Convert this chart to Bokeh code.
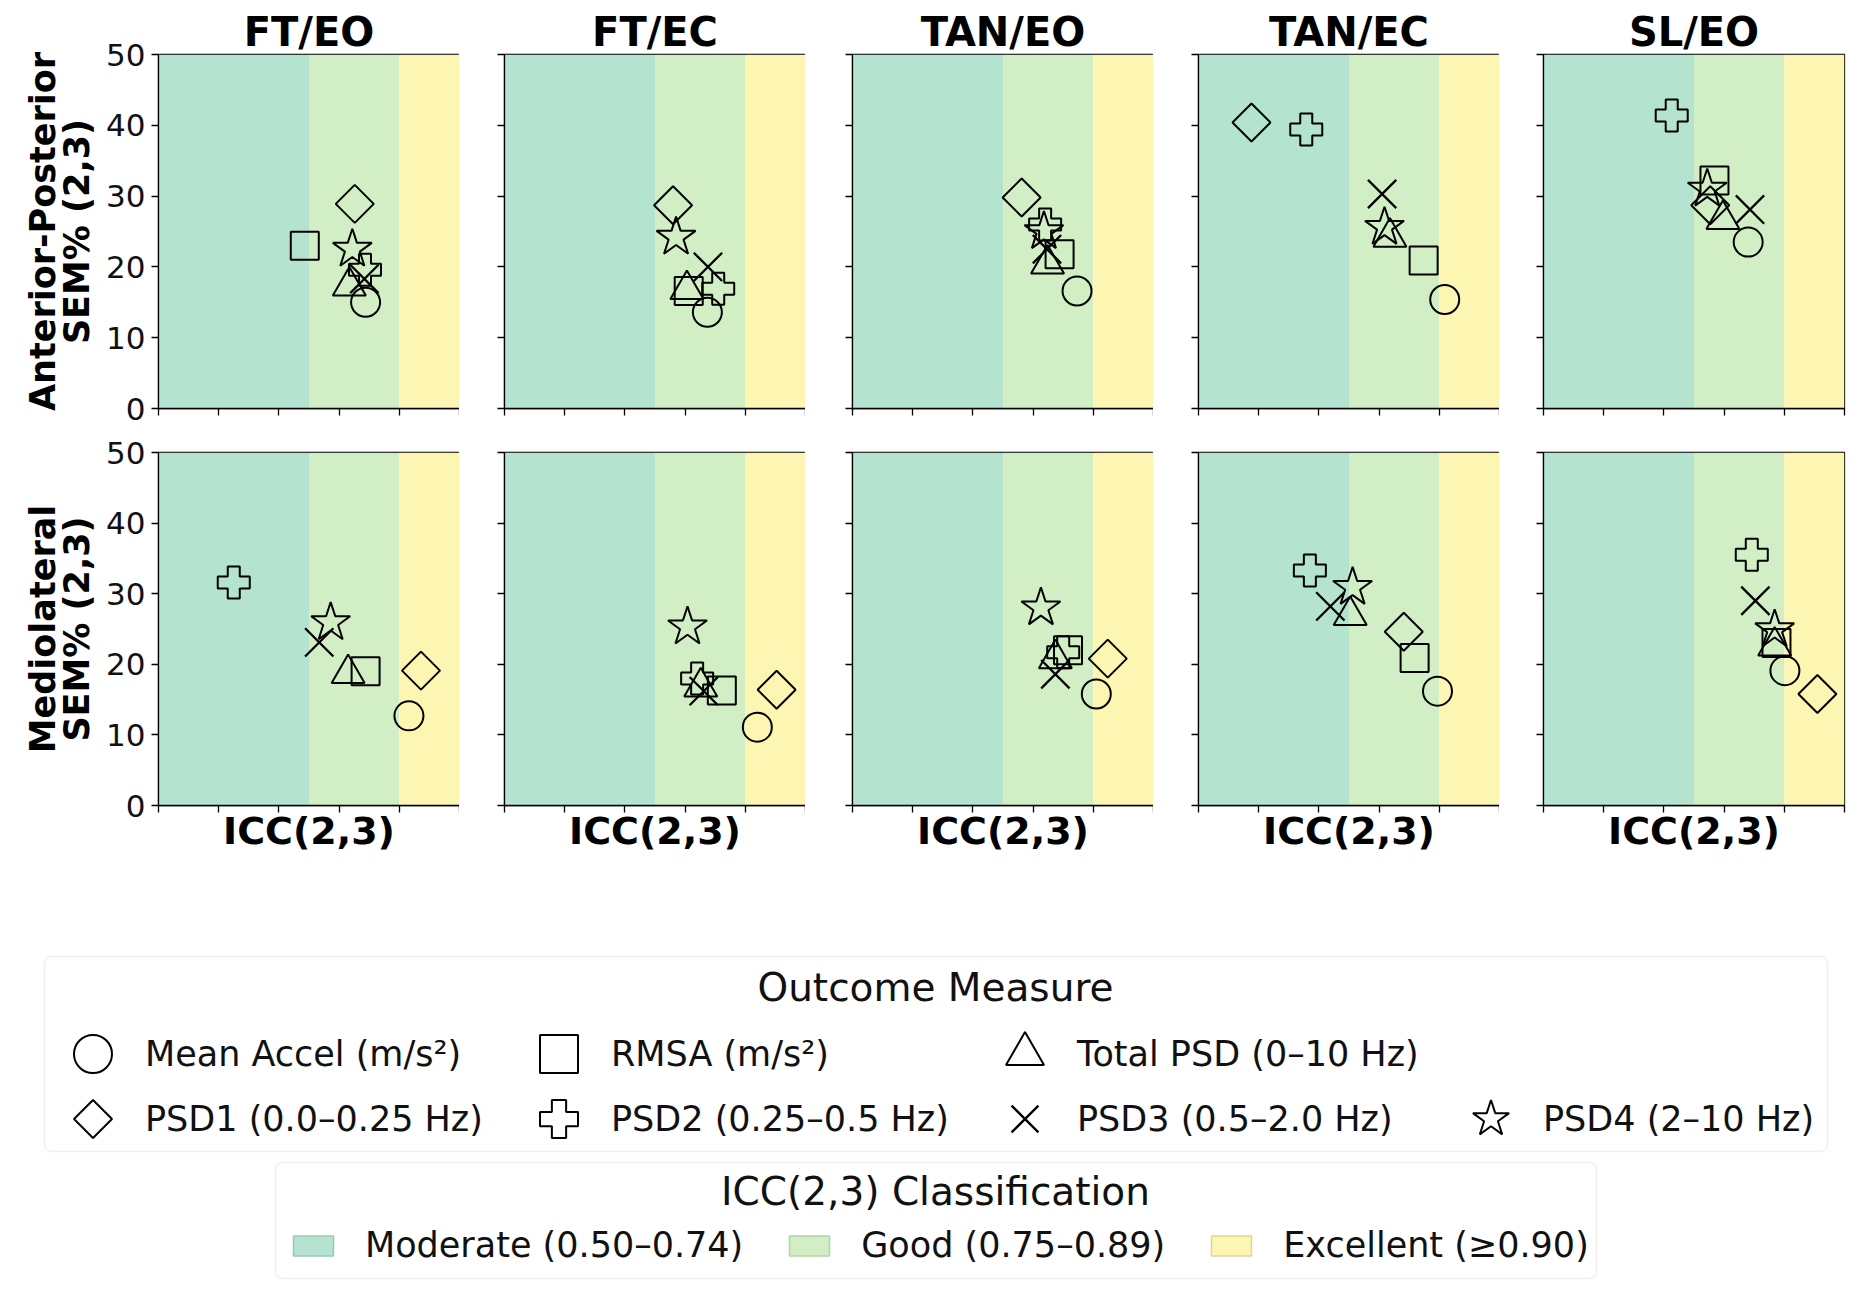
import numpy as np
from bokeh.plotting import figure
from bokeh.layouts import column, row
from bokeh.models import (Range1d, FixedTicker, BoxAnnotation, Legend, LegendItem,
                          CustomJSTickFormatter, Label)
from bokeh.embed import file_html
from bokeh.resources import INLINE

# ---------------- data ----------------
CONDITIONS = ["FT/EO", "FT/EC", "TAN/EO", "TAN/EC", "SL/EO"]
MEASURES = ["Mean Accel (m/s²)", "RMSA (m/s²)", "Total PSD (0–10 Hz)",
            "PSD1 (0.0–0.25 Hz)", "PSD2 (0.25–0.5 Hz)", "PSD3 (0.5–2.0 Hz)",
            "PSD4 (2–10 Hz)"]
ROW_LABELS = ["Anterior-Posterior\nSEM% (2,3)", "Mediolateral\nSEM% (2,3)"]
X_LABEL = "ICC(2,3)"
LEGEND_TITLE = "Outcome Measure"
BAND_TITLE = "ICC(2,3) Classification"

# Anterior-Posterior: ICC(2,3) and SEM% per condition (FT/EO, FT/EC, TAN/EO, TAN/EC, SL/EO)
AP_ICC_MEAN_ACCEL = [0.844, 0.837, 0.873, 0.909, 0.840]
AP_SEM_MEAN_ACCEL = [15.0, 13.6, 16.6, 15.4, 23.5]
AP_ICC_RMSA = [0.743, 0.806, 0.844, 0.874, 0.784]
AP_SEM_RMSA = [23.0, 16.6, 21.8, 20.9, 32.2]
AP_ICC_TOTAL_PSD = [0.817, 0.803, 0.824, 0.818, 0.798]
AP_SEM_TOTAL_PSD = [17.3, 16.8, 20.4, 24.2, 26.7]
AP_ICC_PSD1 = [0.826, 0.780, 0.781, 0.588, 0.777]
AP_SEM_PSD1 = [28.9, 28.7, 29.8, 40.4, 28.7]
AP_ICC_PSD2 = [0.843, 0.855, 0.820, 0.679, 0.713]
AP_SEM_PSD2 = [19.6, 16.9, 26.0, 39.4, 41.4]
AP_ICC_PSD3 = [0.842, 0.838, 0.823, 0.805, 0.843]
AP_SEM_PSD3 = [18.3, 20.0, 22.5, 30.3, 28.1]
AP_ICC_PSD4 = [0.822, 0.785, 0.818, 0.809, 0.772]
AP_SEM_PSD4 = [22.5, 24.2, 25.0, 25.6, 31.0]

# Mediolateral
ML_ICC_MEAN_ACCEL = [0.916, 0.920, 0.905, 0.897, 0.901]
ML_SEM_MEAN_ACCEL = [12.7, 11.1, 15.8, 16.2, 19.1]
ML_ICC_RMSA = [0.844, 0.861, 0.858, 0.859, 0.887]
ML_SEM_RMSA = [19.0, 16.3, 22.0, 20.9, 23.0]
ML_ICC_TOTAL_PSD = [0.815, 0.826, 0.837, 0.752, 0.884]
ML_SEM_TOTAL_PSD = [18.7, 16.8, 20.8, 26.9, 22.6]
ML_ICC_PSD1 = [0.936, 0.952, 0.924, 0.841, 0.955]
ML_SEM_PSD1 = [19.1, 16.4, 20.8, 24.6, 15.8]
ML_ICC_PSD2 = [0.625, 0.820, 0.850, 0.685, 0.846]
ML_SEM_PSD2 = [31.6, 18.0, 21.7, 33.3, 35.5]
ML_ICC_PSD3 = [0.767, 0.831, 0.837, 0.719, 0.852]
ML_SEM_PSD3 = [23.1, 16.2, 18.6, 28.2, 29.0]
ML_ICC_PSD4 = [0.786, 0.804, 0.813, 0.756, 0.884]
ML_SEM_PSD4 = [25.9, 25.3, 28.0, 30.9, 24.9]

AP_ICC = [AP_ICC_MEAN_ACCEL, AP_ICC_RMSA, AP_ICC_TOTAL_PSD, AP_ICC_PSD1,
          AP_ICC_PSD2, AP_ICC_PSD3, AP_ICC_PSD4]
AP_SEM = [AP_SEM_MEAN_ACCEL, AP_SEM_RMSA, AP_SEM_TOTAL_PSD, AP_SEM_PSD1,
          AP_SEM_PSD2, AP_SEM_PSD3, AP_SEM_PSD4]
ML_ICC = [ML_ICC_MEAN_ACCEL, ML_ICC_RMSA, ML_ICC_TOTAL_PSD, ML_ICC_PSD1,
          ML_ICC_PSD2, ML_ICC_PSD3, ML_ICC_PSD4]
ML_SEM = [ML_SEM_MEAN_ACCEL, ML_SEM_RMSA, ML_SEM_TOTAL_PSD, ML_SEM_PSD1,
          ML_SEM_PSD2, ML_SEM_PSD3, ML_SEM_PSD4]

BAND_LABELS = ["Moderate (0.50–0.74)", "Good (0.75–0.89)", "Excellent (≥0.90)"]
BAND_LO = [0.50, 0.75, 0.90]
BAND_HI = [0.75, 0.90, 1.00]
X_TICKS = [0.5, 0.6, 0.7, 0.8, 0.9, 1.0]
Y_TICKS = [0, 10, 20, 30, 40, 50]

# ---------------- style ----------------
FONT = "DejaVu Sans"
BAND_COLORS = ["#b4e3d0", "#d1eec4", "#fdf6b2"]
BAND_EDGE = ["#9cc7b5", "#b5d3a9", "#ddd59a"]
# (marker, size)
MARKER_STYLE = [("circle", 29), ("square", 28), ("triangle", 33),
                ("diamond", 40), ("plus", 32), ("x", 40), ("star", 41)]
DIAMOND_INDEX = 3
DIAMOND_RADIUS = 19  # screen px, for the square-diamond (4-gon) variant
FW = 301
FH = [354, 353]
LEFT_BORDERS = [158, 45, 47, 45, 44]
blank_fmt = CustomJSTickFormatter(code="return ''")
LINE_KW = dict(fill_alpha=0.0, line_color="black", line_width=2.0)


def add_marker(fig, xs, ys, m):
    """Draw one outcome measure's markers; returns the renderer."""
    mk, sz = MARKER_STYLE[m]
    if m == DIAMOND_INDEX:
        try:
            return fig.ngon(x=xs, y=ys, radius=DIAMOND_RADIUS, radius_units="screen",
                            n=4, **LINE_KW)
        except Exception:
            pass
    lw = 2.3 if mk == "x" else 2.0
    return fig.scatter(x=xs, y=ys, marker=mk, size=sz, fill_alpha=0.0,
                       line_color="black", line_width=lw)


def make_panel(r, c):
    first = c == 0
    p = figure(frame_width=FW, frame_height=FH[r],
               x_range=Range1d(0.5, 1.0), y_range=Range1d(0, 50),
               output_backend="svg", toolbar_location=None, tools="",
               min_border_left=LEFT_BORDERS[c],
               min_border_right=(8 if c == 4 else 0),
               min_border_top=(54 if r == 0 else 24),
               min_border_bottom=(20 if r == 0 else 54),
               background_fill_color="white", border_fill_color="white")
    p.grid.visible = False
    p.outline_line_color = "black"
    p.outline_line_width = 1.3
    p.outline_line_alpha = 1.0
    for lo, hi, col in zip(BAND_LO, BAND_HI, BAND_COLORS):
        p.add_layout(BoxAnnotation(left=lo, right=hi, fill_color=col, fill_alpha=1.0,
                                   line_alpha=0.0, level="underlay"))
    icc = AP_ICC if r == 0 else ML_ICC
    sem = AP_SEM if r == 0 else ML_SEM
    for m in range(len(MEASURES)):
        add_marker(p, [icc[m][c]], [sem[m][c]], m)
    for ax in (p.xaxis[0], p.yaxis[0]):
        ax.major_tick_out = 7
        ax.major_tick_in = 0
        ax.minor_tick_out = 0
        ax.minor_tick_in = 0
        ax.axis_line_color = "black"
        ax.axis_line_width = 1.3
        ax.major_tick_line_color = "black"
        ax.major_tick_line_width = 1.3
    p.xaxis.ticker = FixedTicker(ticks=X_TICKS)
    p.yaxis.ticker = FixedTicker(ticks=Y_TICKS)
    p.xaxis.formatter = blank_fmt
    p.xaxis.major_label_text_font_size = "0px"
    if first:
        p.yaxis.major_label_text_font = FONT
        p.yaxis.major_label_text_font_size = "31px"
        p.yaxis.major_label_text_color = "#111111"
        p.yaxis.major_label_standoff = 6
        p.yaxis.axis_label = ROW_LABELS[r]
        p.yaxis.axis_label_text_font = FONT
        p.yaxis.axis_label_text_font_size = "35px"
        p.yaxis.axis_label_text_font_style = "bold"
        p.yaxis.axis_label_text_color = "black"
        p.yaxis.axis_label_text_line_height = 0.85
        p.yaxis.axis_label_standoff = 6
    else:
        p.yaxis.formatter = blank_fmt
        p.yaxis.major_label_text_font_size = "0px"
    if r == 0:
        p.title.text = CONDITIONS[c]
        p.title.align = "center"
        p.title.text_font = FONT
        p.title.text_font_size = "40px"
        p.title.text_font_style = "bold"
        p.title.text_color = "black"
        p.title.standoff = 0
    else:
        p.xaxis.axis_label = X_LABEL
        p.xaxis.axis_label_text_font = FONT
        p.xaxis.axis_label_text_font_size = "38px"
        p.xaxis.axis_label_text_font_style = "bold"
        p.xaxis.axis_label_text_color = "black"
        p.xaxis.axis_label_standoff = -4
    return p


rows = []
for r in range(2):
    rows.append(row(*[make_panel(r, c) for c in range(5)]))

# ---------------- legends ----------------
LEG_W = 1852
LEG_H = 430
lf = figure(width=LEG_W, height=LEG_H, x_range=Range1d(0, LEG_W), y_range=Range1d(0, LEG_H),
            output_backend="svg", toolbar_location=None, tools="",
            x_axis_type=None, y_axis_type=None, min_border=0,
            background_fill_color="white", border_fill_color="white")
lf.outline_line_color = None
lf.grid.visible = False

# legend frames (pixel units of the legend canvas, measured from its bottom-left)
lf.add_layout(BoxAnnotation(left=44, right=1827, bottom=138, top=333,
                            fill_color="white", fill_alpha=1.0, border_radius=7,
                            line_color="#cccccc", line_width=1.5, level="underlay"))
lf.add_layout(BoxAnnotation(left=275, right=1596, bottom=11, top=127,
                            fill_color="white", fill_alpha=1.0, border_radius=7,
                            line_color="#cccccc", line_width=1.5, level="underlay"))
lf.add_layout(Label(x=935, y=302, text=LEGEND_TITLE, text_align="center",
                    text_baseline="middle", text_font=FONT, text_font_size="39px",
                    text_color="#111111"))
lf.add_layout(Label(x=935, y=98, text=BAND_TITLE, text_align="center",
                    text_baseline="middle", text_font=FONT, text_font_size="39px",
                    text_color="#111111"))

mrend = [add_marker(lf, [np.nan], [np.nan], m) for m in range(len(MEASURES))]

leg_common = dict(orientation="horizontal",
                  label_text_font=FONT, label_text_font_size="35px",
                  label_text_color="#111111",
                  glyph_width=95, glyph_height=95, label_standoff=5,
                  label_width=350, spacing=16, padding=0, margin=0,
                  border_line_color=None, background_fill_alpha=0.0)
row_a = [0, 1, 2]
row_b = [3, 4, 5, 6]
leg_a = Legend(items=[LegendItem(label=MEASURES[i], renderers=[mrend[i]]) for i in row_a],
               location=(45, 188), **leg_common)
leg_b = Legend(items=[LegendItem(label=MEASURES[i], renderers=[mrend[i]]) for i in row_b],
               location=(45, 123), **leg_common)
lf.add_layout(leg_a, "center")
lf.add_layout(leg_b, "center")

brend = []
for col, edge in zip(BAND_COLORS, BAND_EDGE):
    brend.append(lf.quad(left=[np.nan], right=[np.nan], top=[np.nan], bottom=[np.nan],
                         fill_color=col, line_color=edge, line_width=1.5))
leg2 = Legend(items=[LegendItem(label=lab, renderers=[rr]) for lab, rr in zip(BAND_LABELS, brend)],
              orientation="horizontal", location=(288, 23),
              label_text_font=FONT, label_text_font_size="35px", label_text_color="#111111",
              glyph_width=50, glyph_height=25, label_height=42, spacing=41, label_standoff=27,
              padding=0, margin=0, border_line_color=None, background_fill_alpha=0.0)
lf.add_layout(leg2, "center")

layout = column(rows[0], rows[1], lf)
open("out.html", "w").write(file_html(layout, INLINE))
